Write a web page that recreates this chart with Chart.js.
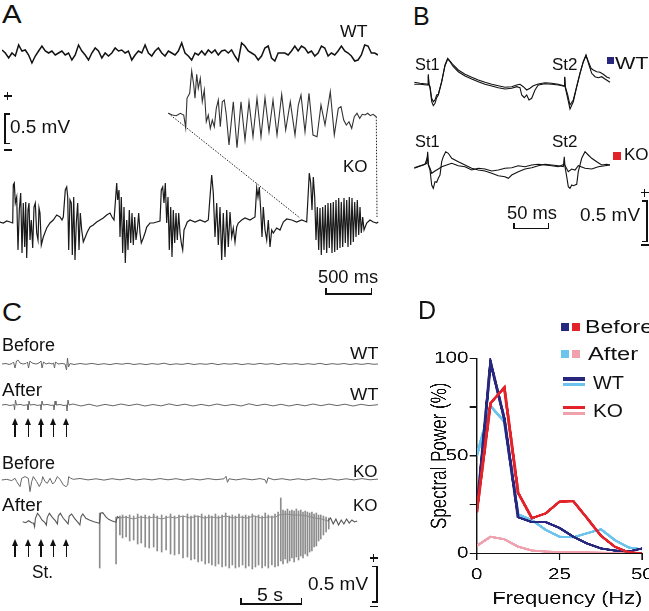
<!DOCTYPE html>
<html>
<head>
<meta charset="utf-8">
<script src="https://cdn.jsdelivr.net/npm/chart.js@4.4.1/dist/chart.umd.min.js"></script>
<style>
body{margin:0;background:#fff}
#fig{position:relative;width:649px;height:611px;overflow:hidden;background:#fff;font-family:"Liberation Sans",Arial,sans-serif;color:#111}
#fig canvas{position:absolute}
.lbl{position:absolute;white-space:nowrap;transform-origin:0 0}
.ink{position:absolute;background:#111}
.head{position:absolute;width:0;height:0;border-left:3.5px solid transparent;border-right:3.5px solid transparent;border-bottom:7px solid #111}
</style>
</head>
<body>
<div id="fig"></div>
<script>
/* ===============================
  Data
================================ */
// A: WT field potential, evenly sampled
const aWt = [4,1,-4,1,-2,9,3,4,-1,-9,-2,3,8,3,1,3,-1,1,3,-1,1,-6,-1,9,3,-1,-6,1,6,3,-4,1,-2,1,6,3,4,1,3,-6,
  -1,3,1,9,1,-2,3,6,1,-2,3,1,-1,3,11,1,-2,-6,1,-1,
  3,-1,4,1,4,-1,3,4,1,4,-2,-7,11,8,3,1,-1,-6,-2,6,8,-4,-7,1,1,1,-1,3,8,3,8,6,1,3,-2,1,8,6,-2,1,
  -1,3,8,3,1,-2,-7,-6,-1,9,8,1,1,-1];
// A: KO trace, [time, amplitude]
const aKo = [[0,0],[3.3,-1],[6.7,1],[10,0],[12.7,-1],[13.3,37],[14.3,39],[15.3,19],[16.7,25],[18,-28],[19.3,12],[20.7,29],[22,-31],[23.3,19],[24.7,-25],[25.7,20],[26.7,-36],[28,12],[29,19],[30,-18],[31.3,2],[32.7,-26],[34,15],[35.3,19],[36.7,-11],[38,-18],[39,14],[40,9],[41.3,-23],[43.3,-15],[46.7,-6],[50,-1],[53.3,2],[56.7,7],[60,5],[62,2],[63.3,5],
  [65.3,32],[66.7,35],[67.7,25],[68.7,-28],[70,22],[71.3,19],[72.3,-33],[73.7,25],[75,-38],[76.3,-1],[77.7,19],[79,-28],[80.3,9],[81.7,-8],[83.3,-20],[85.3,-15],[87.3,-10],[90,-5],[93.3,-3],[96.7,0],[100,2],[103.3,4],[106.7,7],[110,9],[112,5],[114,2],
  [115.3,19],[116.7,39],[117.7,22],[119,32],[120,-15],[121.3,25],[122.7,-31],[124,15],[125.3,-41],[126.7,2],[128,-28],[129.3,12],[130.7,-21],[132,9],[133.3,-23],[134.7,5],[136,-18],[137.3,-8],[138.7,9],[140,-11],[141.3,-21],[143.3,-16],[145.3,-10],[146.7,-5],[150,-1],[153.3,-1],[156.7,0],[160,1],
  [161.3,32],[162.7,35],[164,19],[165.3,39],[166.7,-1],[168,25],[169.3,-28],[170.7,15],[172,-35],[173.3,12],[174.7,-21],[176,9],[177.3,-18],[178.7,9],[180,-11],[181.3,-21],[182.7,-28],[184,-8],[185.3,-5],[187.3,0],[190,2],[195,0],[200,2],[205,0],[208.3,2],
  [210,25],[211.7,47],[213.3,29],[215,-15],[216.7,19],[218.3,-23],[220,15],[221.7,-38],[223.3,9],[225,-35],[226.7,12],[228.3,-25],[230,10],[231.7,-15],[233.3,-6],[235,-20],[236.7,-5],[238.3,-1],[241.7,2],[245,4],[250,2],[255,5],
  [256.7,34],[258,25],[259.3,35],[260.7,12],[262,-15],[263.3,15],[265,-8],[266.7,-18],[268.3,2],[270,-25],[271.7,-8],[273.3,-11],[276.7,-6],[280,-8],[283.3,0],[286.7,3],[291.7,2],[296.7,0],[301.7,2],[306.7,0],
  [309.3,49],[310.7,39],[312,12],[313.3,45],[314.7,25],[316,-18],[317.3,15],[318.7,-28],[320,14],[321.3,-33],[322.7,15],[324,-28],[325.3,17],[326.7,-31],[328,19],[329.3,-26],[330.7,19],[332,-31],[333.3,20],[334.7,-30],[336,22],[337.3,-28],[338.7,24],[340,-26],[341.3,20],[342.7,-25],[344,24],[345.3,-21],[346.7,22],[348,-25],[349.3,25],[350.7,-23],[352,24],[353.3,-20],[354.7,20],[356,-15],[357.3,22],[358.7,-13],[360,15],[361.3,-11],[362.7,5],[364,-8],[366.7,-1],[370,2],[373.3,0],[376.7,-1],[378.3,0]];
// A: enlarged part of the KO trace
const aInset = [[3.3,1.7],[7.3,0],[11.3,-0.7],[15.3,1.7],[18.7,0],[20.7,-12.7],[22,16.7],[24.7,21.7],[26.7,44],[28.7,30],[30,16.7],[31.7,40.7],[33.3,26.7],[35.3,36.7],[37.3,13.3],[39.3,25],[41.3,-6.7],[43.3,0],[45.3,-13.3],[47.3,-5],[49.3,-11.7],[51.3,6.7],[53.3,15],[55.3,-11.7],[57.3,13.3],[59.3,15],[61.3,0],[64,-30],[68.3,13.3],[72,-32.7],[76,13.3],[80,-25],[84,13.3],[88,-21.7],[92,16.7],[96,-21.7],[100,17.3],[104,-16.7],[108,15],[112,-20],[116.7,20.7],[120.7,-15],[125.3,13.3],[130,-20],[133.3,10],[136,20],[140,-16.7],[144,21.7],[148,-20],[152,-21.7],[156,10],[160,-10],[165.3,23.3],[169.3,-20],[173.3,6.7],[176,8.3],[178.7,-5],[181.3,-10],[184,-6.7],[186.7,-13.3],[189.3,-1.7],[192,1.7],[194.7,-3.3],[197.3,0.7],[200,0],[202.7,1.7],[205.3,-0.7],[208,0.7],[211.3,-1.7]];
const zoomWin = [300, 377];

// B: paired-pulse responses, two sweeps each
const bWt1 = [[9.3,0.7],[15,-0.3],[21.7,-1],[23,-1.3],[23.3,8.7],[24,-1.3],[25,-3.7],[26.7,-15.3],[28.3,-18.7],[30,-17],[31.7,-12],[33.3,-11.3],[36.7,1.3],[40,18],[42.7,24.7],[45,22],[48.3,18],[53.3,13],[60,8.7],[66.7,5.7],[73.3,3],[80,0.7],[86.7,-1.3],[93.3,-2.7],[100,-4.3],[106.7,-3.7],[111.7,-2],[115,-1.3],[118.3,-3.7],[121.7,-7],[125,-5.3],[128.3,-2.7],[133.3,-1],[140,0.3],[146.7,-0.3],[153.3,-1.3],[159,-2.7],[159.7,6.3],[160.3,-3.7],[162.7,-12],[165,-22],[168.3,-17],[171.7,-3.7],[175,9.7],[178.3,21.3],[181,28],[184,18],[186.7,9.7],[190,6.3],[193.3,5.3],[196.7,6.3],[200,4],[205,0.7]];
const bWt2 = [[9.3,-1.3],[15,-1.3],[21.7,-2],[23,-2],[23.3,7.3],[24,-2],[25,-4.7],[26.7,-18.7],[28.3,-22.7],[30,-20.3],[31.7,-14.7],[33.3,-12],[36.7,1.3],[40,17.3],[42.7,24],[45,21.3],[48.3,16.3],[53.3,11.3],[60,7],[66.7,4],[73.3,1.3],[80,-1.3],[86.7,-3],[93.3,-4.7],[100,-6],[106.7,-5.3],[111.7,-3.7],[115,-4.7],[116.7,-12],[119.3,-14.7],[121.7,-12],[124,-17],[126.7,-15.3],[130,-7],[133.3,-2],[140,-0.7],[146.7,-1.3],[153.3,-2],[159,-3.3],[159.7,5.7],[160.3,-4.7],[162.7,-15.3],[165,-26],[168.3,-18.7],[171.7,-3.7],[175,9.7],[178.3,21.3],[181,27.3],[184,19.7],[186,14.7],[188.3,13],[191.7,11.3],[195,10.7],[198.3,8.7],[201.7,6],[205,4.7]];
const bKo1 = [[9.3,-2.3],[13.3,-0.7],[18.3,1],[21.7,2.7],[22.7,14.3],[23.3,1],[25,-4],[26.7,-19],[28.3,-22.3],[30,-15.7],[31.7,-16.3],[33.3,-12.3],[35,-9],[36.7,4.3],[38.3,9.3],[40.7,14.3],[43.3,12.7],[46.7,7.7],[53.3,4.3],[60,1],[66.7,-2.3],[73.3,-4],[80,-5],[86.7,-7.3],[93.3,-9.7],[100,-10.7],[103.3,-12.3],[106.7,-9],[113.3,-5.7],[120,-3],[126.7,-1.7],[133.3,0.3],[140,1.7],[146.7,1],[153.3,0.3],[158.3,-0.7],[159.3,9.3],[160,-0.7],[161.7,-10.7],[163.3,-20.7],[165,-22.3],[166.7,-19],[168.3,-19.7],[171.7,-18.3],[173.3,-5.7],[176.7,7.7],[180,14.3],[183.3,11],[186.7,7.7],[191.7,4.3],[196.7,1],[201.7,1.7],[205,1]];
const bKo2 = [[9.3,-1.7],[15,0.3],[20,1.7],[22.7,9.3],[23.3,1.7],[25,-2.3],[26.7,-7.3],[30,-5],[33.3,-3],[36.7,-0.7],[41.7,1],[46.7,2.7],[53.3,0.3],[60,-0.7],[66.7,-4],[73.3,-2.3],[80,-3],[86.7,-5],[93.3,-4],[100,-2.3],[106.7,-1.7],[113.3,0.3],[120,-0.7],[126.7,1],[133.3,1.7],[140,1],[146.7,0.3],[153.3,-0.7],[159.3,1.7],[160.7,-0.7],[163.3,-5.7],[166.7,-3],[170,-4],[173.3,0.3],[180,-2.3],[186.7,-3],[193.3,-0.7],[200,0.3],[205,1]];

// C: stimulation trains, before / after
const cWtBefore = [[2,0],[6,0.5],[9,-0.5],[12,0.5],[13.5,2],[15,-4],[16.5,3],[18,4],[20,1],[23,0],[26,0.5],[27.5,2],[28.5,-4],[30,3],[32,1],[36,0],[39,1],[41,3],[42,-4],[43.5,2],[46,0],[49,1],[52,0],[53.5,1],[54.5,-4],[55.5,2],[58,0],[62,0.5],[65,0],[66.5,-6],[67.5,6],[68.5,-3],[70,0.5],
  [74,-0.5],[80,0.5],[86,-0.3],[92,0.6],[98,-0.5],[104,0.3],[110,-0.6],[116,0.5],[122,-0.2],[128,0.7],[134,-0.5],[140,0.3],[146,-0.6],[152,0.4],[158,-0.3],[164,0.8],[170,-0.6],[176,0.2],[182,-0.4],[188,0.6],[194,-0.5],[200,0.3],[206,-0.3],[212,0.6],[218,-0.6],[224,0.4],[230,-0.2],[236,0.5],[242,-0.6],[248,0.3],[254,-0.4],[260,0.6],[266,-0.3],[272,0.4],[278,-0.6],[284,0.5],[290,-0.2],[296,0.4],[302,-0.5],[308,0.3],[314,-0.4],[320,0.7],[326,-0.6],[332,0.3],[338,-0.3],[344,0.5],[350,-0.5],[356,0.3],[362,-0.4],[368,0.5],[374,-0.3],[378,0]];
const cWtAfter = [[2,0],[6,0.5],[10,-0.5],[14,0.3],[14.5,-5],[15.5,5],[16.5,0],[20,0.6],[24,-0.4],[27.5,0.3],[28,-5],[29,4],[30,0],[34,0.5],[38,-0.5],[40.5,0.3],[41,-5],[42,4],[43,0],[47,0.6],[51,-0.4],[53.5,0],[54,-5],[55,4],[56,0],[60,0.5],[64,-0.5],[66.5,0],[67,-6],[68,5],[69,0],
  [73,1],[81,-1],[89,0.8],[97,-1.2],[105,0.6],[113,-0.8],[121,1],[129,-0.6],[137,0.9],[145,-1],[153,0.5],[161,-0.9],[169,1.1],[177,-0.6],[185,0.8],[193,-1],[201,0.6],[209,-0.8],[217,1],[225,-0.7],[233,0.6],[241,-1],[249,1.2],[257,-0.6],[265,0.8],[273,-0.9],[281,0.7],[289,-1],[297,0.6],[305,-0.8],[313,1],[321,-0.7],[329,0.9],[337,-0.6],[345,0.8],[353,-1],[361,0.7],[369,-0.6],[378,0.3]];
const cKoBefore = [[1.7,-0.7],[6.7,0],[11.7,-1.3],[15,1],[16.7,-2.3],[20,-7.3],[21.7,1],[25,2.7],[28.3,1],[30,-12.3],[31.7,-2.3],[33.3,2.7],[36.7,-2.3],[39.3,-7.3],[41.7,-2.3],[42.7,2.7],[45,-2.3],[47.3,-4],[50,1],[52.7,-4.7],[55,-2.3],[57.3,2.7],[60,0],[63.3,-5.7],[66,-7.3],[67.7,-5.7],[68.7,2.7],[70.7,1],[73.3,0],
  [80,0.8],[88,-0.6],[96,0.5],[104,-0.8],[112,0.6],[120,-0.5],[128,0.8],[136,-0.7],[144,0.4],[152,-0.6],[160,0.7],[168,-0.5],[176,0.6],[184,-0.8],[192,0.5],[200,-0.6],[208,0.7],[216,-0.4],[224,0.5],[226,3],[227.5,-3],[229,0.5],[236,-0.6],[244,0.6],[252,-0.5],[260,0.7],[265,-0.4],[266.5,-4],[268,1.5],[274,-0.5],[282,0.6],[290,-0.7],[298,0.5],[306,-0.6],[314,0.8],[322,-0.5],[330,0.6],[338,-0.7],[346,0.5],[354,-0.6],[362,0.7],[370,-0.5],[378,0.2]];
const cKoAfterStim = [[1.7,-0.7],[5,-1.7],[8.3,0.3],[11.7,-1.7],[14,-2.3],[15,-5.7],[16,2.7],[18.3,7.7],[20.7,5],[23.3,1],[26.7,-1.7],[28.3,-4],[29.3,3.7],[31.7,7.7],[35,3.7],[38.3,0.3],[40.7,-3],[41.7,5],[44,7.7],[47.3,2.7],[50.7,-0.7],[52.7,-3],[54,5],[56.7,7],[60,2.7],[64,-1.7],[66,-4],[67.3,4.3],[69.3,7],[72.7,2.7],[76.7,1],[81.7,-0.7],[86,-1.7],[88,-2.3],[89.3,7.7],[91.7,8.3],[95,4.3],[98.3,1.7],[101.7,0.3],[105,-0.7],[106.5,-1],[108.3,4.3],[110,3]];
const cKoAfterTrain = [[110,3],[118,4],[126,2],[134,4],[142,3],[150,4],[158,2],[166,4],[174,3],[182,5],[190,3],[198,5],[206,3],[214,4],[222,3],[230,5],[238,3],[246,4],[254,3],[262,5],[270,3],[278,4],[286,4],[290,6],[298,7],[306,6],[314,6],[322,5],[330,3],[338,2],[345,0]];
const cKoAfterTail = [[345,0],[348,3],[351,-3],[354,2],[357,-4],[360,1],[363,-3],[366,2],[369,-2],[372,1],[375,-1],[378,0]];
const spikeT  = [88.3,106.7,111,114,118,122,126.5,131,135,139.5,144,149,153,158,163,168,172.5,177.5,182,187,191,195,199,203,207,211,214.5,218.5,222,226,230,234,237.5,241,245,249,252.5,256,260,263.5,267,271,274.5,278,282,285.5,289,292,294.5,297,299.5,302,304.5,307,309.5,312,314.5,317,319.5,322,324.5,327,329.5,332,334.5,337,340,343,346];
const spikeLo = [-47,-43,-14,-17,-16,-20,-19,-23,-22,-26,-27,-26,-30,-31,-29,-33,-34,-33,-37,-36,-39,-38,-41,-40,-43,-42,-44,-45,-43,-46,-45,-47,-44,-47,-46,-44,-47,-45,-48,-46,-44,-47,-45,-47,-44,-46,-45,-40,-43,-38,-42,-40,-37,-41,-36,-39,-35,-37,-33,-35,-31,-30,-26,-25,-20,-18,-14,-11,-8];
const spikeHi = [8,4,5,6,5,6,5,7,5,6,5,7,5,6,5,7,5,6,5,7,5,6,5,7,5,6,5,7,5,6,8,5,6,5,7,5,6,5,7,5,6,5,8,6,5,7,9,23,11,10,12,10,11,10,12,10,11,9,10,9,8,9,7,8,6,6,5,4,3];

// D: spectral power vs frequency
const freq     = [0,4.17,8.33,12.5,16.67,20.83,25,29.17,33.33,37.5,41.67,45.83,50];
const wtBefore = [21,98,69,18.5,16,16,13,8.5,5,2.5,1.4,0.9,2.5];
const wtAfter  = [50,75.5,67.5,20,17,12,8.5,8.2,10.3,12.3,6.8,3,2];
const koBefore = [21,77,85,31,18,20.5,26.5,26.7,18,9,3.4,0.5,0.1];
const koAfter  = [3.8,8.5,7.2,3.4,1.4,0.9,0.6,0.5,0.4,0.3,0.2,0.2,0.2];
const dTicksY  = [0,50,100];

/* ===============================
  helpers
================================ */
const fig = document.getElementById('fig');
Chart.defaults.font.family = '"Liberation Sans", Arial, sans-serif';
Chart.defaults.color = '#111';

function pts(a){ return a.map(p => ({x:p[0], y:p[1]})); }

function label(s, x, base, size, w){
    const d = document.createElement('div');
    d.className = 'lbl';
    d.textContent = s;
    d.style.fontSize = size + 'px';
    d.style.lineHeight = size + 'px';
    d.style.left = x + 'px';
    d.style.top = (base - 0.847 * size) + 'px';
    fig.appendChild(d);
    if (w) d.style.transform = 'scaleX(' + (w / d.offsetWidth).toFixed(3) + ')';
}
function ink(x, y, w, h, c){
    const d = document.createElement('div');
    d.className = 'ink';
    d.style.cssText = `left:${x}px;top:${y}px;width:${w}px;height:${h}px;` + (c ? `background:${c};` : '');
    fig.appendChild(d);
}
function timeBar(x1, x2, y){
    ink(x1, y, x2 - x1, 1.5);
    ink(x1, y - 5, 1.5, 6.5);
    ink(x2 - 1.5, y - 5, 1.5, 6.5);
}
function voltBar(x, y1, y2, side){
    ink(x, y1, 1.5, y2 - y1);
    const tx = side < 0 ? x : x - 4;
    ink(tx, y1, 5.5, 1.5);
    ink(tx, y2 - 1.5, 5.5, 1.5);
}
function plusMinus(cx, yp, ym){
    ink(cx - 4, yp - 0.75, 8, 1.5);
    ink(cx - 0.75, yp - 4, 1.5, 8);
    ink(cx - 4, ym - 0.75, 8, 1.5);
}
function arrow(x, y1, y2){
    const h = document.createElement('div');
    h.className = 'head';
    h.style.left = (x - 3.5) + 'px';
    h.style.top = y1 + 'px';
    fig.appendChild(h);
    ink(x - 0.75, y1 + 6, 1.5, y2 - y1 - 6);
}

// one trace = one small chart with hidden axes
function trace(box, sets, xr, yr, plugins){
    const c = document.createElement('canvas');
    c.width = box[2]; c.height = box[3];
    c.style.left = box[0] + 'px';
    c.style.top = box[1] + 'px';
    fig.appendChild(c);
    return new Chart(c, {
        type: 'line',
        data: {datasets: sets.map(s => ({
            type: s.bar ? 'bar' : 'line',
            data: s.d,
            borderColor: s.c,
            backgroundColor: s.c,
            borderWidth: s.bar ? 0 : (s.w || 1.2),
            barThickness: 1,
            grouped: false,
            pointRadius: 0,
            tension: 0,
            clip: false
        }))},
        options: {
            responsive: false, animation: false, events: [],
            layout: {padding: 0},
            plugins: {legend: {display: false}, tooltip: {enabled: false}},
            scales: {
                x: {type: 'linear', display: false, min: xr[0], max: xr[1]},
                y: {type: 'linear', display: false, min: yr[0], max: yr[1]}
            }
        },
        plugins: plugins || []
    });
}

/* ===============================
  A
================================ */
trace([2, 34, 376, 40], [{d: aWt.map((v, i) => ({x: i, y: v})), c: '#111', w: 1.5}], [0, aWt.length - 1], [-20, 20]);

const insetBox = [165, 65, 217, 95];
const insetChart = trace(insetBox, [{d: pts(aInset), c: '#333', w: 1.1}], [0, 217], [-45, 50]);

const koBox = [0, 105, 382, 165];
const connector = {
    id: 'connector',
    afterDatasetsDraw(chart){
        const ctx = chart.ctx, xs = chart.scales.x, ys = chart.scales.y;
        const ix = insetChart.scales.x, iy = insetChart.scales.y;
        const dx = insetBox[0] - koBox[0], dy = insetBox[1] - koBox[1];
        const a = aInset[0], b = aInset[aInset.length - 1];
        ctx.save();
        ctx.setLineDash([1.5, 1.5]);
        ctx.lineWidth = 1;
        ctx.strokeStyle = '#222';
        ctx.beginPath();
        ctx.moveTo(ix.getPixelForValue(a[0]) + dx, iy.getPixelForValue(a[1]) + dy);
        ctx.lineTo(xs.getPixelForValue(zoomWin[0]), ys.getPixelForValue(4));
        ctx.moveTo(ix.getPixelForValue(b[0]) + dx, iy.getPixelForValue(b[1]) + dy);
        ctx.lineTo(xs.getPixelForValue(zoomWin[1]), ys.getPixelForValue(5));
        ctx.stroke();
        ctx.restore();
    }
};
trace(koBox, [{d: pts(aKo), c: '#1a1a1a', w: 1.2}], [0, 382], [-48, 117], [connector]);

label('A', 2, 23, 25, 20);
label('WT', 340, 37, 17, 27);
label('KO', 343, 172, 17, 25);
label('0.5 mV', 10, 133, 18, 60);
label('500 ms', 318, 283, 18, 60);
plusMinus(7.5, 96, 150);
voltBar(4, 113, 144, -1);
timeBar(325, 372, 293);

/* ===============================
  B
================================ */
trace([405, 40, 215, 85], [{d: pts(bWt1), c: '#111', w: 1.1}, {d: pts(bWt2), c: '#111', w: 1.1}], [0, 215], [-42, 43]);
trace([405, 125, 215, 85], [{d: pts(bKo1), c: '#111', w: 1.1}, {d: pts(bKo2), c: '#111', w: 1.1}], [0, 215], [-44, 41]);

label('B', 413, 25, 25, 17);
label('St1', 415, 70, 17, 25);
label('St2', 552, 70, 17, 26);
label('St1', 415, 147, 17, 25);
label('St2', 552, 147, 17, 26);
ink(607, 57, 7, 7, '#27277e');
label('WT', 615, 69, 17, 33);
ink(613, 152, 7.5, 7.5, '#e2232a');
label('KO', 624, 160, 17, 25);
label('0.5 mV', 580, 221, 18, 60);
label('50 ms', 507, 219, 18, 50);
plusMinus(644.5, 192.5, 245);
voltBar(646, 200, 242, 1);
timeBar(513, 549, 227.5);

/* ===============================
  C
================================ */
trace([0, 350, 382, 30], [{d: pts(cWtBefore), c: '#666', w: 1}], [0, 382], [-16, 14]);
trace([0, 392, 382, 26], [{d: pts(cWtAfter), c: '#666', w: 1}], [0, 382], [-13, 13]);
trace([0, 465, 382, 30], [{d: pts(cKoBefore), c: '#666', w: 1}], [0, 382], [-15.7, 14.3]);
trace([0, 488, 382, 90], [
    {d: pts(cKoAfterStim), c: '#555', w: 1.1},
    {d: pts(cKoAfterTrain), c: '#8c8c8c', w: 1},
    {d: pts(cKoAfterTail), c: '#555', w: 1.1},
    {d: spikeT.map((t, i) => ({x: t, y: [spikeLo[i], spikeHi[i]]})), c: '#8c8c8c', bar: true}
], [0, 382], [-57, 33]);

label('C', 2, 321, 25, 20);
label('Before', 2, 351, 18, 53);
label('WT', 350, 359, 17, 28);
label('After', 2, 396, 18, 40);
label('WT', 350, 400, 17, 28);
label('Before', 2, 469, 18, 53);
label('KO', 353, 477, 17, 25);
label('After', 2, 511, 18, 40);
label('KO', 353, 511, 17, 25);
label('St.', 32, 578, 18, 21);
label('0.5 mV', 308, 590, 18, 60);
label('5 s', 257, 601, 18, 26);
[15, 28.3, 41, 53.3, 66.7].forEach(x => { arrow(x, 418, 437); arrow(x, 539, 557); });
plusMinus(373.5, 558, 606.5);
voltBar(376, 565.5, 602.5, 1);
timeBar(240, 302, 603);

/* ===============================
  D
================================ */
const S = 1.28;   // panel D is horizontally stretched in the figure
const dc = document.createElement('canvas');
dc.width = 179; dc.height = 311;
dc.style.left = '420px';
dc.style.top = '300px';
dc.style.transform = 'scaleX(' + S + ')';
dc.style.transformOrigin = '0 0';
fig.appendChild(dc);

const dSets = [
    [koBefore, '#e2232a'],
    [wtBefore, '#27277e'],
    [wtAfter, '#6cc4ec'],
    [koAfter, '#efa2ad']
];
new Chart(dc, {
    type: 'line',
    data: {datasets: dSets.map(([v, c]) => ({
        data: freq.map((f, i) => ({x: f, y: v[i]})),
        borderColor: c,
        borderWidth: 2.4,
        pointRadius: 0,
        tension: 0
    }))},
    options: {
        responsive: false, animation: false, events: [],
        devicePixelRatio: 3,
        layout: {padding: {left: 0, top: 58.3, right: 5.3, bottom: 0}},
        plugins: {legend: {display: false}, tooltip: {enabled: false}},
        scales: {
            x: {
                type: 'linear', min: 0, max: 50,
                ticks: {stepSize: 25, padding: 5, maxRotation: 0, font: {size: 16}, color: '#111'},
                grid: {drawOnChartArea: false, tickLength: 7, color: '#111', lineWidth: 1.2},
                border: {color: '#111', width: 1.5},
                title: {display: true, text: 'Frequency (Hz)', align: 'end', font: {size: 17}, color: '#111', padding: {top: 0, bottom: 1.8}},
                afterFit: s => { s.height = 57.7; s.paddingLeft = 0; s.paddingRight = 0; }
            },
            y: {
                type: 'linear', min: 0, max: 100,
                ticks: {stepSize: 25, padding: 1, font: {size: 16}, color: '#111',
                    callback: v => dTicksY.includes(v) ? v : ''},
                grid: {drawOnChartArea: false, tickLength: 5.5, color: '#111', lineWidth: 1.5},
                border: {color: '#111', width: 1.2},
                title: {display: true, text: 'Spectral Power (%)', font: {size: 17}, color: '#111', padding: {top: 5.4, bottom: 0}},
                afterFit: s => { s.width = 44.3; s.paddingTop = 0; s.paddingBottom = 0; }
            }
        }
    }
});

label('D', 418, 319, 25, 18);
ink(560.5, 323, 8, 8, '#27277e');
ink(572, 323, 8, 8, '#e2232a');
ink(560.5, 350, 8, 8, '#6cc4ec');
ink(572, 350, 8, 8, '#efa2ad');
ink(563, 377, 22, 3.5, '#27277e');
ink(563, 382.5, 22, 3.5, '#6cc4ec');
ink(563, 405.5, 22, 3.5, '#e2232a');
ink(563, 411.5, 22, 3.5, '#efa2ad');
label('Before', 585, 333, 18, 68);
label('After', 588, 360, 18, 50);
label('WT', 593, 389, 18, 31);
label('KO', 593, 417, 18, 30);
</script>
</body>
</html>
